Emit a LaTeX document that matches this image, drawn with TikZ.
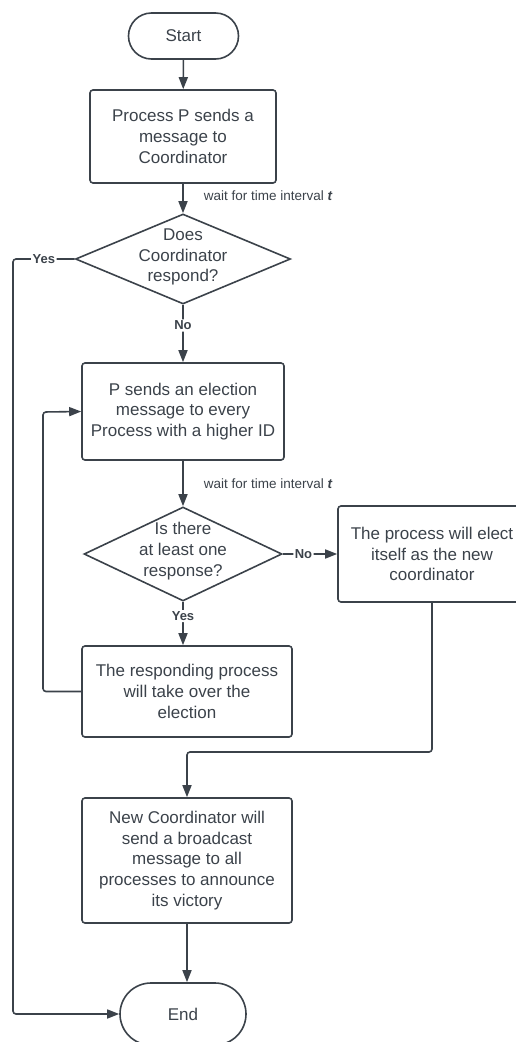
\documentclass[tikz,border=0pt]{standalone}
\usepackage{fontspec}
\setmainfont{Liberation Sans}
\usetikzlibrary{shapes.geometric,shapes.misc,arrows.meta}
\definecolor{ink}{RGB}{59,66,74}

\tikzset{
  box/.style={draw,rounded corners=3pt,inner sep=0pt},
  term/.style={draw,rounded rectangle,inner sep=0pt},
  decide/.style={draw,diamond,inner sep=0pt},
  choice/.style={font=\bfseries\fontsize{13}{15}\selectfont,fill=white,inner sep=1.5pt},
  wait/.style={font=\fontsize{13.5}{16}\selectfont,inner sep=0pt},
  flow/.style={-{Triangle[length=12pt,width=9pt]},rounded corners=3pt}
}

\begin{document}
\begin{tikzpicture}[x=1pt,y=-1pt,color=ink,line width=1.6pt,
    every node/.append style={font=\fontsize{17}{20.7}\selectfont,align=center}]

        \useasboundingbox (0,0) rectangle (516,1042);

        % shapes
        \node[term,minimum width=110pt,minimum height=46pt] (start) at (183.5,36) {Start};
        \node[box,minimum width=186pt,minimum height=93pt] (send) at (183,136.5)
          {Process P sends a\\message to\\Coordinator};
        \node[decide,minimum width=215pt,minimum height=90pt] (ask) at (183,259) {};
        \node (askq) at (183,257) {Does\\Coordinator\\respond?};
        \node[box,minimum width=202pt,minimum height=97pt] (elect) at (183,411.5)
          {P sends an election\\message to every\\Process with a higher ID};
        \node[decide,minimum width=198pt,minimum height=94pt] (any) at (183,554) {};
        \node (anyq) at (183,551) {Is there\\at least one\\response?};
        \node[box,minimum width=188pt,minimum height=96pt] (self) at (432,554)
          {The process will elect\\itself as the new\\coordinator};
        \node[box,minimum width=210pt,minimum height=91pt] (take) at (187,691.5)
          {The responding process\\will take over the\\election};
        \node[box,minimum width=210pt,minimum height=125pt] (bcast) at (187,860.5)
          {New Coordinator will\\send a broadcast\\message to all\\processes to announce\\its victory};
        \node[term,minimum width=126pt,minimum height=62pt] (end) at (183,1014) {End};

        % rails
        \coordinate (yesrail) at (13,259);
        \coordinate (looprail) at (43,412);
        \coordinate (merge) at (432,752);

        % connectors
        \draw[flow] (start) -- (send);
        \draw[flow] (send) -- node[wait,pos=0.42,right=20pt] {wait for time interval \textbf{\textit{t}}} (ask);
        \draw[flow] (ask) -- node[choice,pos=0.36] {No} (elect);
        \draw[flow] (ask.west) -- node[choice] {Yes} (yesrail) |- (end.west);
        \draw[flow] (elect) -- node[wait,right=20pt] {wait for time interval \textbf{\textit{t}}} (any);
        \draw[flow] (any.east) -- node[choice,pos=0.38] {No} (self.west);
        \draw[flow] (any.south) -- node[choice,pos=0.33] {Yes} (any.south |- take.north);
        \draw[flow] (take.west) -| (looprail) -- (elect.west);
        \draw[flow] (self.south) -- (merge) -| (bcast.north);
        \draw[flow] (bcast.south) -- (bcast.south |- end.north);

      \end{tikzpicture}
\end{document}
